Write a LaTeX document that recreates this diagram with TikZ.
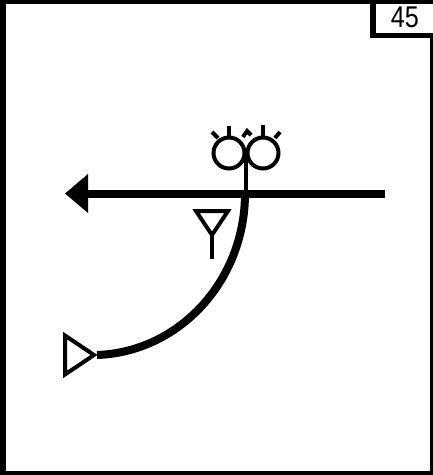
\documentclass[tikz,border=0pt]{standalone}
\usepackage{fontspec}
\setmainfont{Liberation Sans}
\definecolor{signblack}{RGB}{0,0,0}

\begin{document}
\begin{tikzpicture}[x=1pt,y=-1pt,line width=4pt,signblack]
  \useasboundingbox (0,0) rectangle (433,475);
  \coordinate (Start) at (385,193.5);
  \coordinate (Tip) at (65,193.5);
  \coordinate (Base) at (88,193.5);
  \coordinate (Branch) at (245,193.5);
  \coordinate (End) at (97,355);
  \coordinate (LampL) at (229,153);
  \coordinate (LampR) at (263,153);
  \coordinate (Join) at (246,153);
  % frame and number box
  \fill (0,0) rectangle (433,4);
  \fill (0,0) rectangle (6,475);
  \fill (0,471) rectangle (433,475);
  \fill (430,38) rectangle (433,475);
  \fill (370,0) rectangle (376,38);
  \fill (370,33) rectangle (433,38);
  \node[font=\fontsize{30}{30}\selectfont,xscale=0.84,inner sep=0pt] (Num) at (405,17) {45};
  % main line
  \draw[line width=8pt] (Start) -- (Base);
  \fill (Tip) -- (88,174) -- (88,213) -- cycle;
  % branch
  \draw[line width=8pt] (Branch) .. controls (245,280) and (180,352) .. (End);
  \draw[miter limit=10] (94,355) -- (65,335.5) -- (65,374.5) -- cycle;
  % yield sign
  \draw (196,211) -- (228,211) -- (212,235) -- cycle;
  \draw (212,235) -- (212,259);
  % lamps
  \draw (LampL) circle (15.5);
  \draw (LampR) circle (15.5);
  \draw (Join) -- (246,190);
  \draw (229,136) -- (229,126);
  \draw (218,138) -- (212,132);
  \draw (263,136) -- (263,125);
  \draw (275,138) -- (280,132);
  \draw (243,137) -- (247,131) -- (251,135);
\end{tikzpicture}
\end{document}
